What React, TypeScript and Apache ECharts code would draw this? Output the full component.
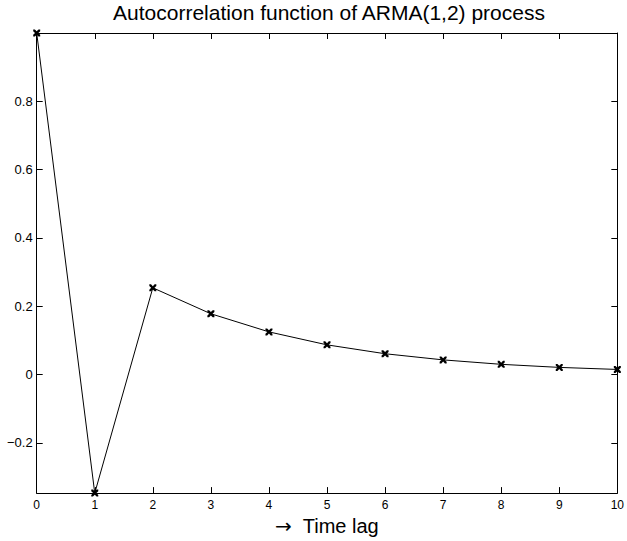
import React, { useEffect, useRef } from "react";
import * as echarts from "echarts";

// Autocorrelation values of the ARMA(1,2) process, lags 0..10
const lags = [0, 1, 2, 3, 4, 5, 6, 7, 8, 9, 10];
const acf = [1, -0.347, 0.254, 0.178, 0.125, 0.087, 0.061, 0.043, 0.03, 0.021, 0.015];
const yTickValues = [-0.2, 0, 0.2, 0.4, 0.6, 0.8];
const xTickValues = [0, 1, 2, 3, 4, 5, 6, 7, 8, 9, 10];

const FONT = "'Liberation Sans', Arial, Helvetica, sans-serif";
const CROSS =
  "path://M0,0 L2.4,0 L5,2.6 L7.6,0 L10,0 L10,2.4 L7.4,5 L10,7.6 L10,10 L7.6,10 L5,7.4 L2.4,10 L0,10 L0,7.6 L2.6,5 L0,2.4 Z";

const fmt = (v: number) => {
  const s = Math.abs(v) < 1e-9 ? "0" : String(Math.round(v * 10) / 10);
  return s.replace("-", "\u2212");
};

export default function App() {
  const ref = useRef<HTMLDivElement>(null);

  useEffect(() => {
    if (!ref.current) return;
    const chart = echarts.init(ref.current, undefined, { renderer: "svg" });
    const axisLine = { show: true, onZero: false, lineStyle: { color: "#000", width: 1 } };
    const tick = { show: true, inside: true, length: 6, lineStyle: { color: "#000" } };
    const yBase = {
      type: "value" as const,
      min: -0.347,
      max: 1,
      axisLine,
      splitLine: { show: false },
      axisTick: { ...tick, customValues: yTickValues },
    };
    const xBase = {
      type: "value" as const,
      min: 0,
      max: 10,
      interval: 1,
      axisLine,
      splitLine: { show: false },
      axisTick: tick,
    };
    chart.setOption({
      animation: false,
      backgroundColor: "#fff",
      title: {
        text: "Autocorrelation function of ARMA(1,2) process",
        left: 329,
        textAlign: "center",
        top: 2,
        padding: 0,
        textStyle: { fontFamily: FONT, fontSize: 21, fontWeight: "normal", color: "#000" },
      },
      grid: { left: 36.7, right: 4.7, top: 33, bottom: 45.3 },
      xAxis: [
        {
          ...xBase,
          position: "bottom",
          name: "{a|\u2192}{b|  Time lag}",
          nameLocation: "middle",
          nameGap: 19,
          nameTextStyle: {
            color: "#000",
            rich: {
              a: { fontFamily: "'DejaVu Sans', sans-serif", fontSize: 20, color: "#000" },
              b: { fontFamily: FONT, fontSize: 20, color: "#000" },
            },
          },
          axisLabel: {
            show: true,
            margin: 6,
            color: "#000",
            fontFamily: FONT,
            fontSize: 12,
            customValues: xTickValues,
            formatter: (v: number) => String(v),
          },
        },
        { ...xBase, position: "top", axisLabel: { show: false } },
      ],
      yAxis: [
        {
          ...yBase,
          position: "left",
          axisLabel: {
            show: true,
            margin: 4,
            color: "#000",
            fontFamily: FONT,
            fontSize: 13,
            customValues: yTickValues,
            formatter: (v: number) => fmt(v),
          },
        },
        { ...yBase, position: "right", axisLabel: { show: false } },
      ],
      series: [
        {
          type: "line",
          data: lags.map((l, i) => [l, acf[i]]),
          clip: false,
          symbol: CROSS,
          symbolSize: 7,
          showAllSymbol: true,
          lineStyle: { color: "#000", width: 1 },
          itemStyle: { color: "#000" },
        },
      ],
    });
    return () => chart.dispose();
  }, []);

  return <div ref={ref} style={{ width: 627, height: 541, position: "absolute", left: 0, top: 0 }} />;
}
